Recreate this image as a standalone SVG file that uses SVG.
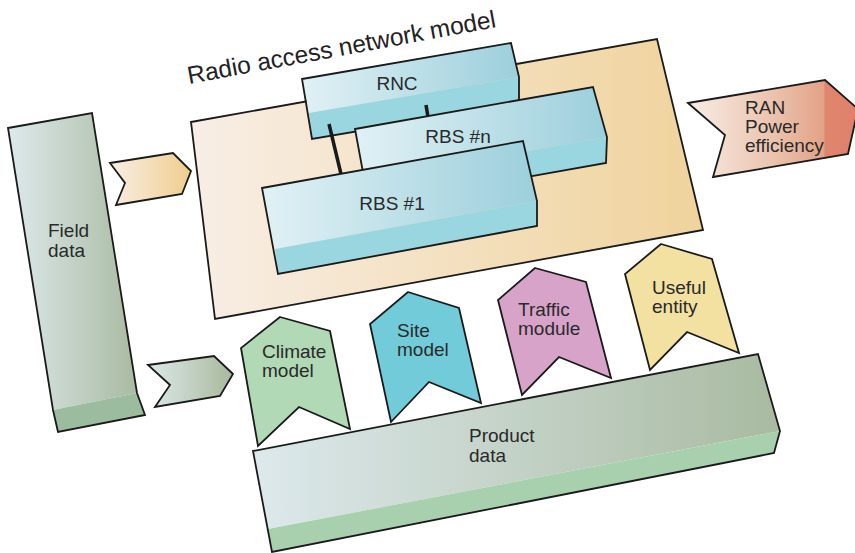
<svg xmlns="http://www.w3.org/2000/svg" width="855" height="553" viewBox="0 0 855 553">
<defs>
<linearGradient id="gPlate" x1="0" y1="0" x2="1" y2="0"><stop offset="0" stop-color="#f8eee6"/><stop offset="1" stop-color="#f0d39c"/></linearGradient>
<linearGradient id="gBlue" x1="0" y1="0" x2="1" y2="0"><stop offset="0" stop-color="#e1f1f5"/><stop offset="1" stop-color="#9ccfdc"/></linearGradient>
<linearGradient id="gGreen" x1="0" y1="0" x2="1" y2="0"><stop offset="0" stop-color="#dde9ec"/><stop offset="1" stop-color="#a9baa1"/></linearGradient>
<linearGradient id="gA1" x1="0" y1="0" x2="1" y2="0"><stop offset="0" stop-color="#f9eee6"/><stop offset="1" stop-color="#efcd8c"/></linearGradient>
<linearGradient id="gA2" x1="0" y1="0" x2="1" y2="0"><stop offset="0" stop-color="#dce9ea"/><stop offset="1" stop-color="#a8b99c"/></linearGradient>
<linearGradient id="gRan" x1="0" y1="0" x2="1" y2="0"><stop offset="0" stop-color="#f8ede6"/><stop offset="0.5" stop-color="#ebc3ae"/><stop offset="0.8" stop-color="#e2a287"/><stop offset="0.805" stop-color="#e0866e"/><stop offset="1" stop-color="#df806a"/></linearGradient>
</defs>
<style>
.ol{stroke:#1a1a1a;stroke-width:1.8;stroke-linejoin:miter}
.nf{fill:none}
.t{font-family:"Liberation Sans",Arial,sans-serif;font-size:19px;fill:#2a2a2a}
.title{font-family:"Liberation Sans",Arial,sans-serif;font-size:24.5px;fill:#222}
.conn{stroke:#1a1a1a;stroke-width:3.5;stroke-linecap:butt;fill:none}
.bandB{fill:#99d6df}
.bandFD{fill:#9cbc9f}
.bandPD{fill:#a9d0ae}
</style>

<g id="ran-model">
<polygon class="ol" fill="url(#gPlate)" points="191,122 657,39 703,230 215,319"/>
<text class="title" x="189" y="84" transform="rotate(-10.5 189 84)">Radio access network model</text>
</g>

<g id="rnc">
<polygon fill="url(#gBlue)" points="302,79 511,43 519,77 309,113"/>
<polygon class="bandB" points="309,113 519,77 519,104 312,139"/>
<polygon class="ol nf" points="302,79 511,43 519,77 519,104 312,139"/>
<text class="t" x="397" y="90" text-anchor="middle">RNC</text>
</g>

<g id="connectors">
<line class="conn" x1="329" y1="124" x2="341" y2="174"/>
<line class="conn" x1="426" y1="105" x2="428" y2="117"/>
</g>

<g id="rbs-n">
<polygon fill="url(#gBlue)" points="355,129 593,87 607,137 364,180"/>
<polygon class="bandB" points="364,180 607,137 606,163 369,205"/>
<polygon class="ol nf" points="355,129 593,87 607,137 606,163 369,205"/>
<text class="t" x="458" y="143" text-anchor="middle">RBS #n</text>
</g>

<g id="rbs-1">
<polygon fill="url(#gBlue)" points="262,188 523,141 537,201 275,249"/>
<polygon class="bandB" points="275,249 537,201 537,226 278,274"/>
<polygon class="ol nf" points="262,188 523,141 537,201 537,226 278,274"/>
<text class="t" x="392" y="210" text-anchor="middle">RBS #1</text>
</g>

<g id="field-data">
<polygon fill="url(#gGreen)" points="8,128 92,113 137,393 53,410"/>
<polygon class="bandFD" points="53,410 137,393 145,415 58,432"/>
<polygon class="ol nf" points="8,128 92,113 137,393 145,415 58,432 53,410"/>
<text class="t" x="48" y="237">Field</text>
<text class="t" x="48" y="257">data</text>
</g>

<g id="arrow-to-ran">
<polygon class="ol" fill="url(#gA1)" points="110,163 173,153 191,171 182,194 116,205 125,183"/>
</g>

<g id="arrow-to-models">
<polygon class="ol" fill="url(#gA2)" points="148,365 214,356 233,374 220,396 155,407 170,385"/>
</g>

<g id="ran-power-efficiency">
<polygon class="ol" fill="url(#gRan)" points="688,103 825,80 858,109 848,154 713,177 725,135"/>
<text class="t" x="745" y="114">RAN</text>
<text class="t" x="745" y="133">Power</text>
<text class="t" x="745" y="152">efficiency</text>
</g>

<g id="climate-model">
<polygon class="ol" fill="#b1d9b5" points="280,317 330,331 350,429 299,407 258,446 241,348"/>
<text class="t" x="262" y="358">Climate</text>
<text class="t" x="262" y="377">model</text>
</g>

<g id="site-model">
<polygon class="ol" fill="#72cbd9" points="408,292 459,308 481,403 429,382 391,422 370,324"/>
<text class="t" x="397" y="337">Site</text>
<text class="t" x="397" y="356">model</text>
</g>

<g id="traffic-module">
<polygon class="ol" fill="#d8a3c9" points="535,268 586,282 611,378 559,357 522,395 498,300"/>
<text class="t" x="518" y="316">Traffic</text>
<text class="t" x="518" y="335">module</text>
</g>

<g id="useful-entity">
<polygon class="ol" fill="#f3e1a1" points="661,244 712,259 739,353 687,332 650,370 625,274"/>
<text class="t" x="652" y="294">Useful</text>
<text class="t" x="652" y="313">entity</text>
</g>

<g id="product-data">
<polygon fill="url(#gGreen)" points="253,451 758,354 780,431 268,529"/>
<polygon class="bandPD" points="268,529 780,431 774,453 272,552"/>
<polygon class="ol nf" points="253,451 758,354 780,431 774,453 272,552"/>
<text class="t" x="469" y="442">Product</text>
<text class="t" x="469" y="462">data</text>
</g>
</svg>
